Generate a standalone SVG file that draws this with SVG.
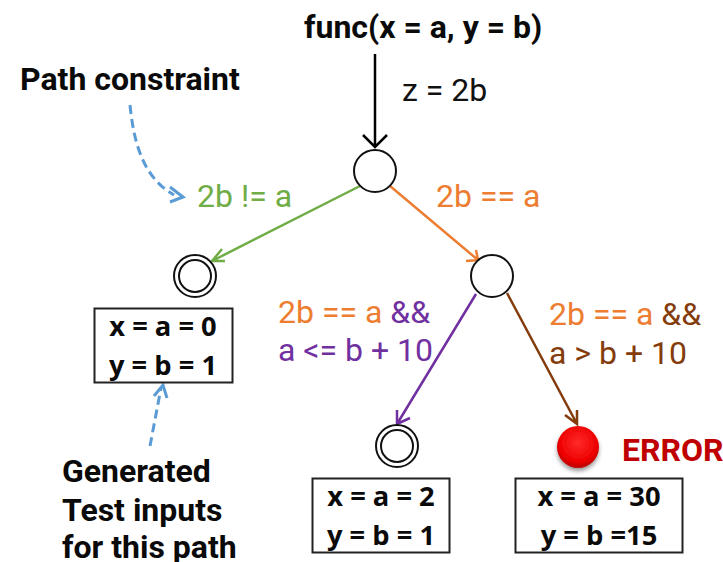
<svg xmlns="http://www.w3.org/2000/svg" width="723" height="562" viewBox="0 0 723 562">
<style>
text{font-family:Roboto,"Liberation Sans",sans-serif}
.h{font-weight:700;font-size:32px;fill:#0a0a0a}
.l{font-size:32px}
.v{font-family:"Open Sans","Liberation Sans",sans-serif;font-weight:700;font-size:27.300px;fill:#0a0a0a;text-anchor:middle}
.n{fill:#fff;stroke:#111;stroke-width:2}
.b{fill:#fff;stroke:#222;stroke-width:2}
.c{fill:none;stroke-width:2.500}
.d{fill:none;stroke:#5b9bd5;stroke-width:3;stroke-dasharray:9 5}
.hd{fill:none;stroke-width:3}
.g{fill:#70ad47}.o{fill:#ed7d31}.p{fill:#7030a0}.br{fill:#843c0c}
</style>
<defs>
<radialGradient id="red" cx="0.5" cy="0.4" r="0.6"><stop offset="0" stop-color="#ff2a2a"/><stop offset="0.75" stop-color="#ee0000"/><stop offset="1" stop-color="#b80808"/></radialGradient>
<filter id="sh" x="-30%" y="-30%" width="160%" height="160%"><feDropShadow dx="0" dy="3" stdDeviation="2" flood-color="#000" flood-opacity="0.4"/></filter>
</defs>
<g id="connectors">
<path class="c" stroke="#000" d="M375 54V147M363 135L375 147L387 135"/>
<path class="c" stroke="#70ad47" d="M360 186L212 261M225 261L212 261L222 249"/>
<path class="c" stroke="#ed7d31" d="M390 186L478 260M466 261L478 260L476 250"/>
<path class="c" stroke="#7030a0" d="M476 294L397 424M397 410L397 424L410 418"/>
<path class="c" stroke="#843c0c" d="M507 293L577 424M577 410L577 424L565 415"/>
<path class="d" d="M130 105C134 145 144 178 174 195"/>
<path class="hd" stroke="#5b9bd5" d="M170 187L183 197L170 202"/>
<path class="d" d="M150 446L161 388"/>
<path class="hd" stroke="#5b9bd5" d="M154 396L163 385L167 398"/>
</g>
<g id="title"><text class="h" x="304" y="38">func(x = a, y = b)</text></g>
<g id="label-path-constraint"><text class="h" x="20" y="90">Path constraint</text></g>
<g id="label-z"><text class="l" x="402" y="101" fill="#111">z = 2b</text></g>
<g id="label-ne"><text class="l g" x="197" y="207">2b != a</text></g>
<g id="label-eq"><text class="l o" x="436" y="207">2b == a</text></g>
<g id="label-le"><text class="l" x="278" y="323"><tspan class="o">2b == a </tspan><tspan class="p">&amp;&amp;</tspan></text><text class="l p" x="278" y="361">a &lt;= b + 10</text></g>
<g id="label-gt"><text class="l" x="549" y="325"><tspan class="o">2b == a </tspan><tspan class="br">&amp;&amp;</tspan></text><text class="l br" x="549" y="364">a &gt; b + 10</text></g>
<g id="node-root"><circle class="n" cx="375" cy="171" r="21"/></g>
<g id="node-branch"><circle class="n" cx="492" cy="276" r="21"/></g>
<g id="node-end-left"><circle class="n" cx="195" cy="276" r="21"/><circle class="n" cx="195" cy="276" r="16"/></g>
<g id="node-end-mid"><circle class="n" cx="397" cy="446" r="21"/><circle class="n" cx="397" cy="446" r="16"/></g>
<g id="node-error"><circle cx="578" cy="447" r="21" fill="url(#red)" filter="url(#sh)"/><text x="622" y="461" font-weight="700" font-size="32" fill="#c00000">ERROR</text></g>
<g id="box-left"><rect class="b" x="94.500" y="308.500" width="138" height="74"/><text class="v" x="163" y="336">x = a = 0</text><text class="v" x="163" y="375">y = b = 1</text></g>
<g id="box-mid"><rect class="b" x="312.500" y="478.500" width="137" height="74"/><text class="v" x="381" y="506">x = a = 2</text><text class="v" x="381" y="545">y = b = 1</text></g>
<g id="box-right"><rect class="b" x="515.500" y="478.500" width="167" height="74"/><text class="v" x="599" y="506">x = a = 30</text><text class="v" x="599" y="545">y = b =15</text></g>
<g id="label-generated"><text class="h" x="62" y="482">Generated</text><text class="h" x="62" y="521">Test inputs</text><text class="h" x="62" y="558">for this path</text></g>
</svg>
